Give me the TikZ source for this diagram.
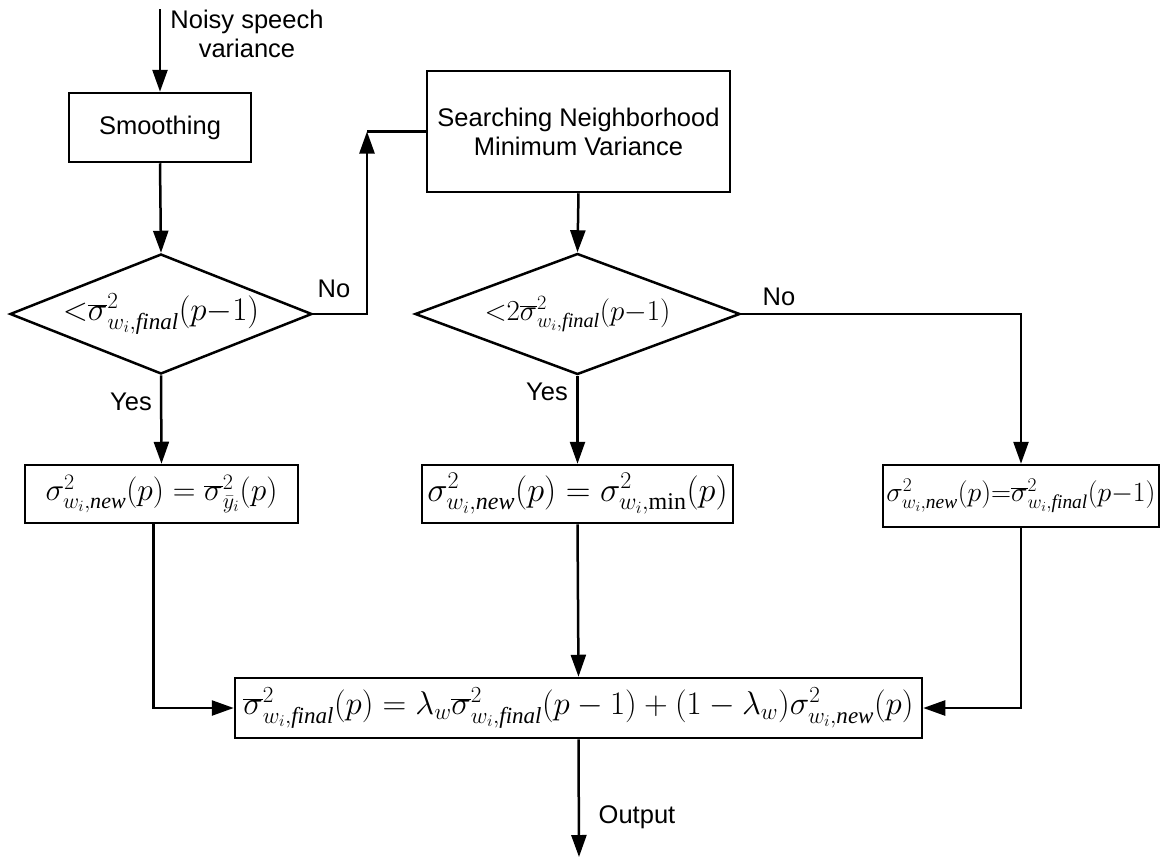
\RequirePackage{fix-cm}
\documentclass[tikz,border=0pt]{standalone}
\usepackage{fontspec}
\setmainfont{Liberation Serif}
\newfontfamily\labelfont{Liberation Sans}
\usetikzlibrary{shapes.geometric,arrows.meta}

\tikzset{
  stroke/.style={line width=2.5pt},
  flow/.style={stroke, -{Triangle[length=22pt,width=15pt]}},
  line/.style={stroke},
  txt/.style={font=\labelfont\fontsize{25.5}{29}\selectfont, inner sep=0pt, align=center},
  procbox/.style={draw, stroke, rectangle, inner sep=0pt},
  decision/.style={draw, stroke, diamond, inner sep=0pt, shape aspect=2.5},
  eqsize/.style={font=\fontsize{#1}{#1}\selectfont},
}

\begin{document}
\begin{tikzpicture}[x=1pt, y=-1pt]
  \useasboundingbox (0,0) rectangle (1163,863);

  % processing blocks
  \node[procbox, txt, minimum width=182, minimum height=69] (smooth) at (160,127.5) {Smoothing};
  \node[procbox, txt, minimum width=303, minimum height=121] (search) at (578.5,131.5)
       {Searching Neighborhood\\Minimum Variance};

  % decisions
  \node[decision, eqsize=33, minimum width=302, minimum height=120] (d1) at (161,314)
       {${<}\overline{\sigma}^2_{w_i,\mathit{final}}(p{-}1)$};
  \node[decision, eqsize=29, minimum width=325, minimum height=121] (d2) at (577.5,314)
       {${<}2\overline{\sigma}^2_{w_i,\mathit{final}}(p{-}1)$};

  % variance updates
  \node[procbox, eqsize=31.5, minimum width=273, minimum height=58] (b1) at (161.5,494)
       {$\sigma^2_{w_i,\mathit{new}}(p)=\overline{\sigma}^2_{\bar{y}_i}(p)$};
  \node[procbox, eqsize=34.3, minimum width=311, minimum height=58] (b2) at (577.5,494)
       {$\sigma^2_{w_i,\mathit{new}}(p)=\sigma^2_{w_i,\min}(p)$};
  \node[procbox, eqsize=27.8, minimum width=276, minimum height=62] (b3) at (1021,496)
       {$\sigma^2_{w_i,\mathit{new}}(p){=}\overline{\sigma}^2_{w_i,\mathit{final}}(p{-}1)$};

  % final smoothing
  \node[procbox, eqsize=32.9, minimum width=687, minimum height=60] (fin) at (578.5,708)
       {$\overline{\sigma}^2_{w_i,\mathit{final}}(p)=\lambda_w\overline{\sigma}^2_{w_i,\mathit{final}}(p-1)+(1-\lambda_w)\sigma^2_{w_i,\mathit{new}}(p)$};

  % free ends
  \coordinate (in) at (160,9);
  \coordinate (out) at (579,857);
  \coordinate (up) at (367,131.5);

  % connectors
  \draw[flow] (in) -- (smooth.north);
  \draw[flow] (smooth.south) -- (d1.north);
  \draw[flow] (d1.east) -| (up);
  \draw[line] (up) -- (search.west);
  \draw[flow] (search.south) -- (d2.north);
  \draw[flow] (d1.south) -- (b1.north);
  \draw[flow] (d2.south) -- (b2.north);
  \draw[flow] (d2.east) -| (b3.north);
  \draw[flow] ([xshift=-8pt]b1.south) |- (fin.west);
  \draw[flow] (b2.south) -- (fin.north);
  \draw[flow] (b3.south) |- (fin.east);
  \draw[flow] (fin.south) -- (out);

  % labels
  \node[txt] (lin) at (247,33.5) {Noisy speech\\variance};
  \node[txt] (no1) at (334,289) {No};
  \node[txt] (no2) at (779,297) {No};
  \node[txt] (yes1) at (131,402) {Yes};
  \node[txt] (yes2) at (547,392) {Yes};
  \node[txt] (lout) at (637,817) {Output};
\end{tikzpicture}
\end{document}
